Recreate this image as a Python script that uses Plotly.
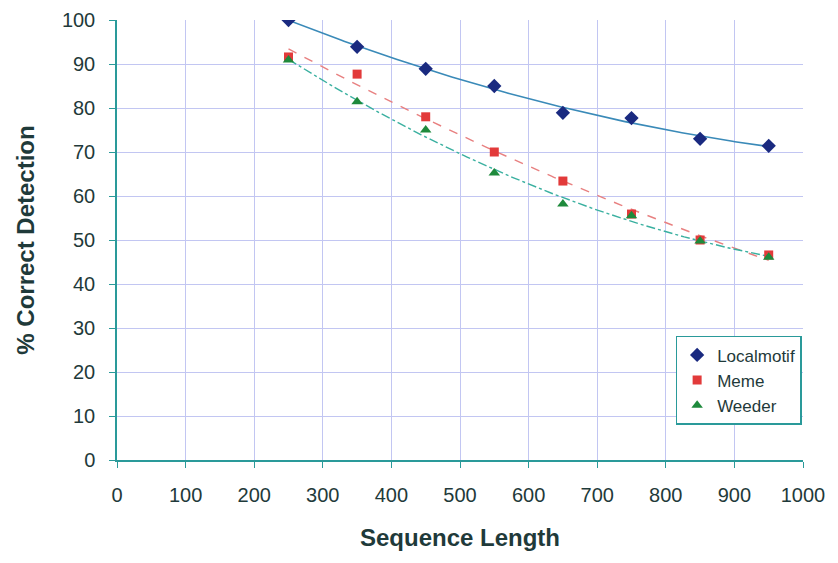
import numpy as np
import plotly.graph_objects as go

# Sequence lengths tested and detection rates (%) for each tool
seq_len = [250, 350, 450, 550, 650, 750, 850, 950]
localmotif = [100, 93.9, 88.9, 85.0, 78.9, 77.7, 73.0, 71.4]
meme = [91.6, 87.7, 78.0, 70.0, 63.4, 55.9, 50.0, 46.6]
weeder = [90.9, 81.4, 75.0, 65.2, 58.2, 55.5, 49.8, 46.1]

x_ticks = list(range(0, 1001, 100))
y_ticks = list(range(0, 101, 10))

text_color = "#1f3a3a"
axis_color = "#2a9a9a"
grid_color = "#c2c6f2"
font_family = "Liberation Sans, Arial, sans-serif"

series = [
    ("Localmotif", localmotif, dict(symbol="diamond", color="#1a2a80", size=11),
     dict(color="#3a8ab8", width=1.6, dash="solid")),
    ("Meme", meme, dict(symbol="square", color="#e23a3a", size=9),
     dict(color="#e88080", width=1.4, dash="dash")),
    ("Weeder", weeder, dict(symbol="triangle-up", color="#1e8a3c", size=10),
     dict(color="#3ab0a0", width=1.4, dash="dashdot")),
]

fig = go.Figure()

# Second-order polynomial trendlines fitted to each series
x_fit = np.linspace(min(seq_len), max(seq_len), 200)
for name, vals, marker, line in series:
    coeffs = np.polyfit(seq_len, vals, 2)
    fig.add_trace(go.Scatter(
        x=x_fit, y=np.polyval(coeffs, x_fit), mode="lines",
        line=line, showlegend=False, hoverinfo="skip",
    ))

for name, vals, marker, line in series:
    fig.add_trace(go.Scatter(
        x=seq_len, y=vals, mode="markers", name=name,
        marker=dict(symbol=marker["symbol"], color=marker["color"],
                    size=marker["size"], line=dict(width=0)),
    ))

fig.update_layout(
    width=838, height=563,
    margin=dict(l=117, r=35, t=20, b=103),
    paper_bgcolor="white", plot_bgcolor="white",
    font=dict(family=font_family, color=text_color, size=20),
    legend=dict(
        x=0.998, y=0.282, xanchor="right", yanchor="top",
        bordercolor=axis_color, borderwidth=1.5, bgcolor="white",
        font=dict(size=17, color=text_color),
        itemwidth=30,
    ),
    xaxis=dict(
        range=[0, 1000], tickvals=x_ticks, ticks="outside", ticklen=6,
        tickcolor=axis_color, showline=True, linecolor=axis_color, linewidth=1.5,
        showgrid=True, gridcolor=grid_color, gridwidth=1, zeroline=False,
        ticklabelstandoff=10, automargin=False,
        title=dict(text="<b>Sequence Length</b>", font=dict(size=24, color=text_color),
                   standoff=24),
    ),
    yaxis=dict(
        range=[0, 100], tickvals=y_ticks, ticks="outside", ticklen=6,
        tickcolor=axis_color, showline=True, linecolor=axis_color, linewidth=1.5,
        showgrid=True, gridcolor=grid_color, gridwidth=1, zeroline=False,
        ticklabelstandoff=10, automargin=False,
        title=dict(text="<b>% Correct Detection</b>", font=dict(size=24, color=text_color),
                   standoff=20),
    ),
)

fig.write_html("out.html")
